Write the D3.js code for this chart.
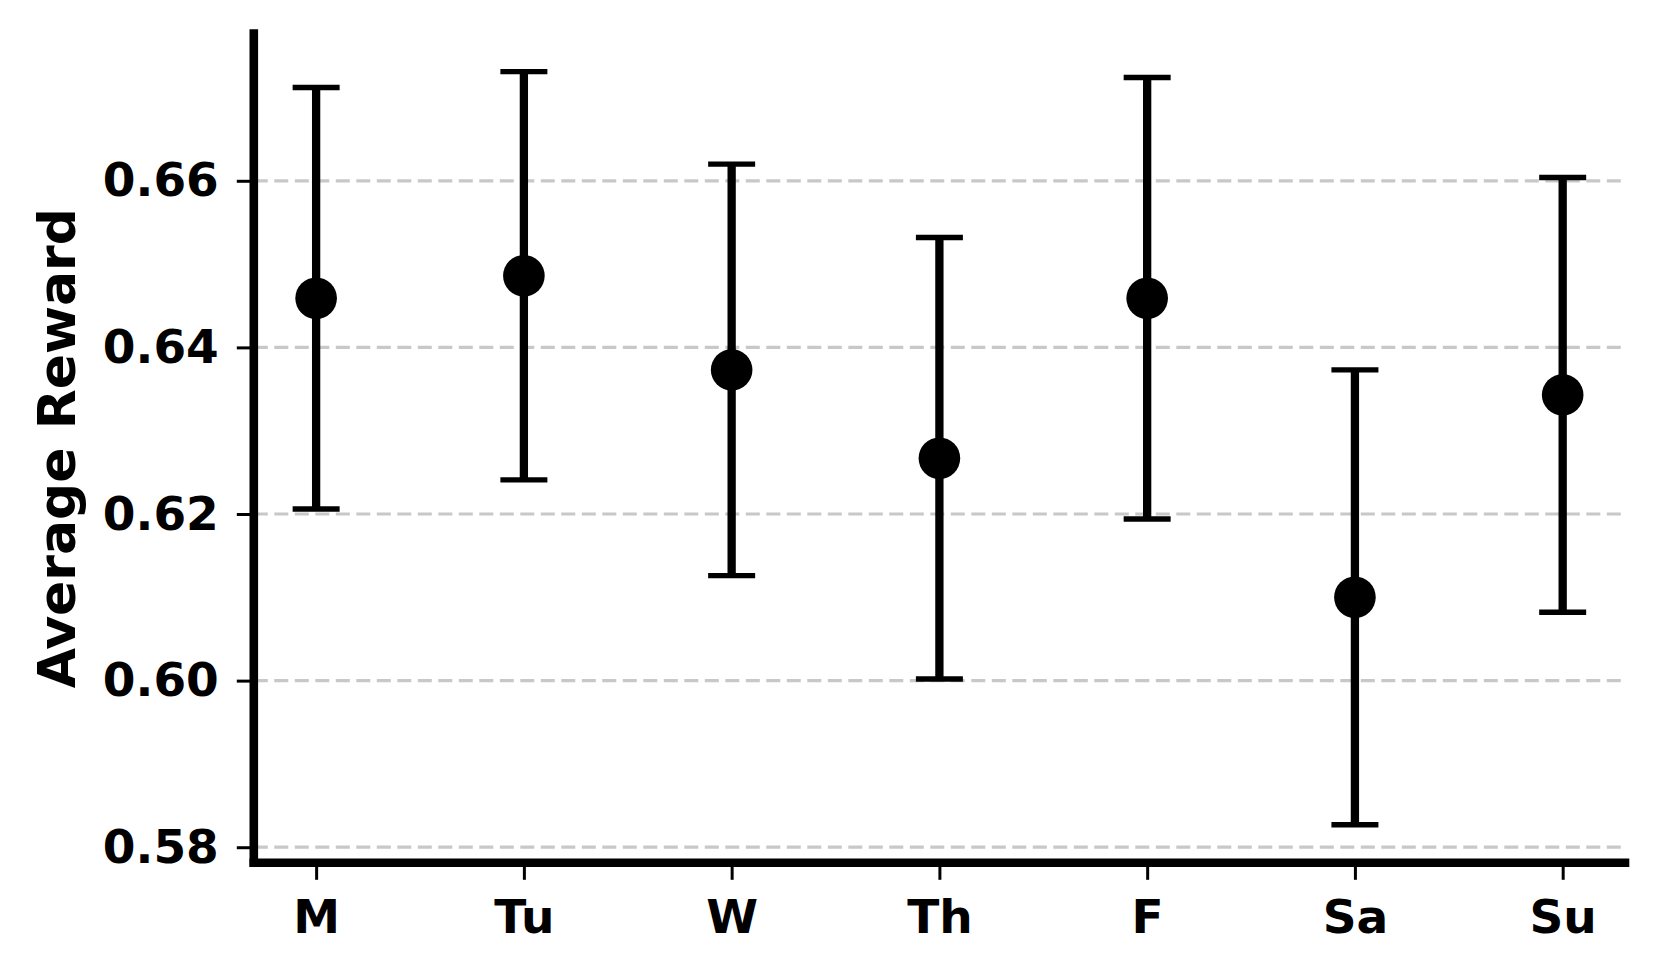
<!DOCTYPE html>
<html>
<head>
<meta charset="utf-8">
<script src="https://cdn.jsdelivr.net/npm/d3@7"></script>
<style>
  html, body { margin: 0; padding: 0; background: #ffffff; }
  svg { display: block; }
  text { font-family: "DejaVu Sans", sans-serif; font-weight: bold; fill: #000; }
</style>
</head>
<body>
<svg id="chart" width="1659" height="976"></svg>
<script>
// ---- data ----
const days = ["M", "Tu", "W", "Th", "F", "Sa", "Su"];
const means = [0.6459, 0.6486, 0.6373, 0.6267, 0.6459, 0.6100, 0.6343];
const errors = [0.0253, 0.0245, 0.0247, 0.0265, 0.0265, 0.0273, 0.0261];
const yTicks = [0.58, 0.60, 0.62, 0.64, 0.66];
const yLabel = "Average Reward";

(function () {
// ---- layout ----
const padL = 253.8, padR = 1625, padT = 33.5, padB = 862.8;
const svg = d3.select("#chart");

const x = d3.scaleLinear().domain([-0.3, days.length - 1 + 0.3]).range([padL, padR]);
const y = d3.scaleLinear().domain([0.57813, 0.67768]).range([padB, padT]);

// grid
const grid = svg.append("g");
grid.selectAll("line").data(yTicks).join("line")
  .attr("x1", padL).attr("x2", padR)
  .attr("y1", d => y(d)).attr("y2", d => y(d))
  .attr("stroke", "#c8c8c8").attr("stroke-width", 3.2)
  .attr("stroke-dasharray", "14,6.5");

// y axis ticks + labels via d3 axis
const yAxis = d3.axisLeft(y).tickValues(yTicks).tickFormat(d3.format(".2f"))
  .tickSize(17).tickPadding(18);
const gy = svg.append("g").attr("transform", `translate(${padL},0)`).call(yAxis);
gy.select(".domain").remove();
gy.selectAll(".tick line").attr("stroke", "#000").attr("stroke-width", 3);
gy.selectAll(".tick text").style("font-size", "47px").style("font-weight", "bold")
  .style("font-family", '"DejaVu Sans", sans-serif').attr("fill", "#000");

// x axis ticks + labels
const xAxis = d3.axisBottom(x).tickValues(d3.range(days.length)).tickFormat(i => days[i])
  .tickSize(17).tickPadding(20);
const gx = svg.append("g").attr("transform", `translate(0,${padB})`).call(xAxis);
gx.select(".domain").remove();
gx.selectAll(".tick line").attr("stroke", "#000").attr("stroke-width", 3);
gx.selectAll(".tick text").style("font-size", "47px").style("font-weight", "bold")
  .style("font-family", '"DejaVu Sans", sans-serif').attr("fill", "#000");

// error bars
const eb = svg.append("g");
const rows = days.map((d, i) => ({ i, m: means[i], e: errors[i] }));
eb.selectAll("line.v").data(rows).join("line").attr("class", "v")
  .attr("x1", d => x(d.i)).attr("x2", d => x(d.i))
  .attr("y1", d => y(d.m - d.e)).attr("y2", d => y(d.m + d.e))
  .attr("stroke", "#000").attr("stroke-width", 8.3);
["lo", "hi"].forEach(k => {
  eb.selectAll("line.c" + k).data(rows).join("line").attr("class", "c" + k)
    .attr("x1", d => x(d.i) - 23.5).attr("x2", d => x(d.i) + 23.5)
    .attr("y1", d => y(k === "lo" ? d.m - d.e : d.m + d.e))
    .attr("y2", d => y(k === "lo" ? d.m - d.e : d.m + d.e))
    .attr("stroke", "#000").attr("stroke-width", 5.4);
});
eb.selectAll("circle").data(rows).join("circle")
  .attr("cx", d => x(d.i)).attr("cy", d => y(d.m)).attr("r", 20.8)
  .attr("fill", "#000");

// spines
const lw = 8.6;
svg.append("line").attr("x1", padL).attr("x2", padL)
  .attr("y1", padT - lw / 2).attr("y2", padB + lw / 2)
  .attr("stroke", "#000").attr("stroke-width", lw);
svg.append("line").attr("x1", padL - lw / 2).attr("x2", padR + lw / 2)
  .attr("y1", padB).attr("y2", padB)
  .attr("stroke", "#000").attr("stroke-width", lw);

// y label
svg.append("text")
  .attr("transform", `translate(75,${(padT + padB) / 2}) rotate(-90)`)
  .attr("text-anchor", "middle")
  .style("font-size", "52px")
  .text(yLabel);
})();
</script>
</body>
</html>
